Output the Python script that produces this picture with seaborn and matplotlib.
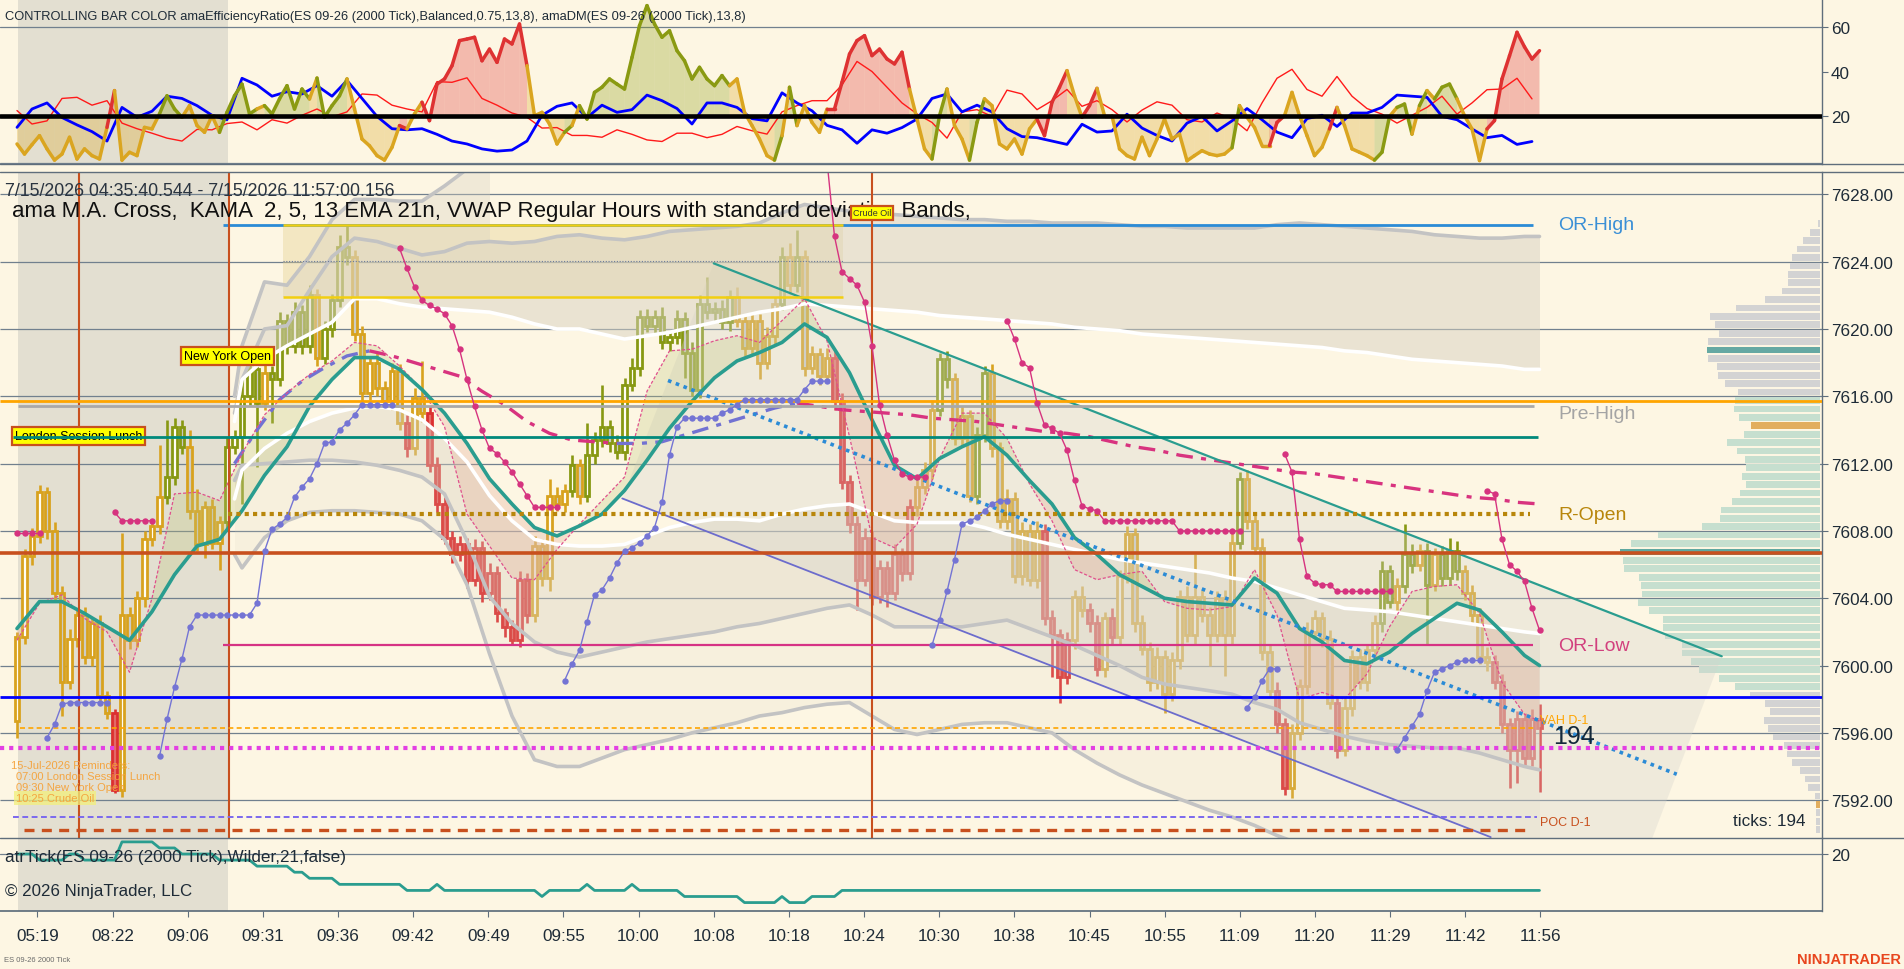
import numpy as np
import matplotlib
matplotlib.use("Agg")
import matplotlib.pyplot as plt
import seaborn as sns
from matplotlib.collections import LineCollection, PolyCollection
from matplotlib.patches import Rectangle, Polygon
from matplotlib.lines import Line2D

# ----------------------------------------------------------------- DATA
first_open = 7596.7
closes = [
    7601.7, 7606.5, 7607.7, 7610.3, 7608.0, 7604.3, 7599.0, 7601.6, 7603.0, 7600.5,
    7602.5, 7598.2, 7597.2, 7592.6, 7603.0, 7601.5, 7604.0, 7607.5, 7608.3, 7610.0,
    7611.2, 7614.2, 7613.0, 7609.2, 7607.2, 7609.4, 7607.3, 7608.5, 7613.0, 7613.6,
    7616.0, 7617.6, 7615.6, 7617.4, 7617.0, 7620.5, 7619.0, 7621.0, 7619.0, 7622.0,
    7618.3, 7620.0, 7621.7, 7624.9, 7624.3, 7619.7, 7616.2, 7618.0, 7616.5, 7615.7,
    7617.5, 7614.4, 7612.9, 7615.9, 7615.0, 7611.9, 7609.6, 7607.6, 7606.6, 7607.2,
    7605.1, 7607.0, 7604.3, 7605.5, 7603.1, 7602.3, 7601.5, 7605.1, 7603.0, 7607.1,
    7605.2, 7610.1, 7609.6, 7610.4, 7611.9, 7610.1, 7612.5, 7613.4, 7614.2, 7613.2,
    7612.7, 7616.7, 7617.7, 7620.7, 7620.2, 7620.7, 7619.2, 7619.5, 7620.6, 7618.6,
    7616.4, 7621.5, 7621.0, 7621.2, 7620.4, 7621.9, 7620.5, 7618.9, 7620.5, 7618.0,
    7619.6, 7621.5, 7624.3, 7622.6, 7624.3, 7617.7, 7618.5, 7617.2, 7618.3, 7615.7,
    7610.9, 7608.4, 7605.1, 7607.6, 7604.1, 7605.8, 7604.3, 7606.6, 7605.5, 7609.4,
    7610.6, 7611.6, 7615.2, 7618.2, 7617.0, 7613.5, 7614.8, 7610.1, 7613.7, 7617.4,
    7612.9, 7608.6, 7609.9, 7605.3, 7608.0, 7605.1, 7608.0, 7602.8, 7601.8, 7599.3,
    7601.5, 7604.1, 7603.3, 7602.5, 7599.8, 7602.8, 7601.7, 7605.3, 7607.8, 7602.5,
    7601.0, 7599.0, 7600.5, 7598.3, 7600.3, 7604.1, 7601.8, 7604.1, 7603.0, 7601.8,
    7604.0, 7601.8, 7607.3, 7611.1, 7608.6, 7607.0, 7600.8, 7598.5, 7596.5, 7592.7,
    7596.0, 7598.8, 7602.0, 7602.8, 7601.6, 7597.8, 7595.0, 7597.5, 7600.5, 7599.0,
    7600.9, 7602.5, 7605.6, 7603.8, 7604.7, 7606.6, 7606.0, 7606.8, 7604.8, 7606.6,
    7605.2, 7606.8, 7605.6, 7604.3, 7603.0, 7600.5, 7600.2, 7599.0, 7596.5, 7595.0,
    7596.8, 7594.5, 7596.8, 7596.3,
]
up_wick = [
    0.3, 0.4, 0.5, 0.4, 0.3, 0.5, 0.4, 0.6, 0.4, 0.5, 0.4, 0.5, 0.3, 0.2, 4.9, 0.5, 0.4, 0.5, 0.4, 3.1,
    3.4, 0.5, 0.4, 1.0, 1.3, 0.4, 0.5, 0.4, 0.6, 0.4, 1.0, 0.5, 0.4, 0.6, 0.4, 0.5, 0.4, 0.6, 0.4, 0.6,
    0.4, 0.5, 0.4, 0.7, 1.3, 0.4, 0.5, 0.4, 0.6, 0.4, 0.5, 0.4, 0.5, 0.6, 2.2, 0.4, 0.5, 0.4, 0.4, 0.5,
    0.4, 0.5, 0.4, 0.6, 0.4, 0.3, 0.4, 0.5, 0.4, 0.6, 0.4, 1.0, 0.5, 0.4, 0.6, 0.4, 1.9, 0.5, 2.5, 0.4,
    0.5, 0.4, 0.6, 0.4, 0.5, 0.4, 0.6, 0.4, 0.5, 0.4, 0.6, 0.5, 1.6, 0.4, 0.5, 0.4, 0.6, 0.4, 0.5, 0.4,
    0.5, 0.4, 0.6, 0.8, 1.6, 0.4, 0.5, 0.4, 0.6, 0.4, 0.5, 0.4, 0.5, 0.6, 0.4, 0.5, 0.4, 0.6, 0.4, 0.5,
    0.4, 0.5, 0.6, 0.4, 0.5, 0.4, 0.6, 0.4, 0.5, 0.4, 0.5, 0.4, 0.6, 0.4, 0.5, 0.4, 0.6, 0.4, 0.5, 0.4,
    0.5, 0.4, 0.6, 0.4, 0.5, 0.4, 0.6, 0.4, 0.5, 0.4, 0.5, 0.4, 0.6, 0.4, 0.5, 0.4, 0.6, 2.5, 0.4, 0.5,
    0.4, 0.5, 0.6, 0.4, 0.5, 0.4, 0.6, 0.4, 0.5, 0.4, 0.5, 0.4, 0.6, 0.5, 0.4, 0.5, 0.4, 0.6, 0.4, 0.5,
    0.4, 0.5, 0.6, 0.4, 0.5, 1.8, 0.6, 0.4, 0.5, 0.4, 0.5, 0.8, 0.6, 0.4, 0.5, 0.4, 0.6, 0.4, 0.5, 0.4,
    0.5, 0.4, 0.6, 0.9,
]
dn_wick = [
    1.0, 0.4, 0.5, 0.4, 0.5, 0.4, 2.0, 0.4, 0.5, 0.4, 0.5, 0.3, 0.4, 0.2, 0.4, 0.5, 0.4, 0.5, 0.4, 0.5,
    0.4, 0.5, 0.4, 0.5, 0.4, 0.8, 0.4, 1.6, 0.5, 0.4, 4.0, 0.5, 3.8, 0.4, 2.6, 0.4, 0.5, 0.4, 0.5, 0.4,
    0.5, 0.4, 0.5, 0.4, 0.5, 0.4, 0.5, 0.4, 0.5, 0.4, 0.5, 0.4, 0.5, 0.4, 0.5, 0.4, 0.5, 0.4, 0.5, 0.4,
    0.5, 0.4, 0.5, 0.4, 0.5, 0.6, 0.3, 0.4, 0.5, 0.4, 0.5, 0.8, 0.4, 0.5, 0.4, 0.5, 0.4, 0.5, 0.4, 0.5,
    0.4, 0.5, 0.4, 0.5, 0.4, 0.5, 0.4, 0.5, 0.4, 1.5, 0.4, 0.5, 0.4, 0.5, 0.4, 0.5, 0.4, 0.5, 0.4, 1.0,
    0.4, 0.5, 0.4, 0.5, 0.4, 0.5, 0.4, 0.5, 0.4, 0.5, 0.4, 0.5, 1.8, 0.4, 0.5, 0.4, 0.8, 0.4, 0.5, 0.4,
    0.5, 0.4, 0.5, 0.4, 0.5, 0.4, 0.5, 0.4, 0.5, 0.4, 0.5, 0.4, 0.5, 0.4, 0.5, 0.4, 0.5, 0.4, 2.5, 1.5,
    0.4, 0.5, 0.4, 0.5, 0.4, 0.5, 0.4, 0.5, 0.4, 0.5, 0.4, 0.5, 0.4, 1.1, 0.4, 0.5, 0.4, 0.5, 0.4, 1.8,
    0.4, 2.4, 0.5, 0.4, 0.5, 0.4, 0.5, 0.4, 0.5, 0.4, 0.6, 0.4, 0.5, 0.4, 0.5, 0.4, 0.5, 0.4, 0.5, 0.4,
    0.5, 0.4, 0.5, 0.4, 0.5, 0.4, 0.5, 0.4, 3.5, 0.4, 0.5, 0.4, 0.5, 0.4, 0.5, 0.4, 0.5, 0.4, 0.5, 2.3,
    2.0, 0.4, 0.5, 3.8,
]
# bar colour controlled by efficiency ratio: G = up trend, Y = neutral, R = down trend
bar_color = (
    "YYYYYYYYYYYYY" "R" "YYYYYY" "GGG" "YYYYY" "GGGGG" "Y" "GGGGGG" "Y" "GGGG"
    "YYYYYYY" "R" "YY" "RRRRRRRRRRRRRR" "YYYYY" "G" "Y" "GGGGGGGGGGGGGGGGGGGG"
    "YYYYYY" "GYG" "YYYY" "RRRRRRRRRRR" "YYY" "GG" "YYY" "GG" "YYYYYYY" "RRRR"
    "YY" "RR" "YR" "YYYYYYYYYYYYYYYY" "G" "YYYY" "RR" "YYYYYY" "R" "YYYYY"
    "GG" "Y" "GG" "Y" "G" "Y" "GGG" "YYYY" "RRRRRRR"
)
x_labels = ["05:19", "08:22", "09:06", "09:31", "09:36", "09:42", "09:49", "09:55", "10:00",
            "10:08", "10:18", "10:24", "10:30", "10:38", "10:45", "10:55", "11:09", "11:20",
            "11:29", "11:42", "11:56"]

# top panel: amaEfficiencyRatio (per bar), amaDM +DI / -DI (every 2nd bar)
er_values = [
    7.7, 3.2, 7.4, 11.4, 5.5, 0.5, 3.2, 10.7, 1.0, 5.5, 2.5, 1.0, 15.1, 31.5, 0.5, 4.0, 2.5, 15.1, 14.4, 21.1,
    29.2, 23.3, 19.6, 24.8, 15.9, 12.9, 20.3, 12.9, 21.8, 29.2, 34.4, 21.1, 23.3, 24.8, 21.1, 27.8, 33.7, 23.3, 32.2, 27.8,
    37.1, 19.6, 24.8, 29.2, 36.7, 23.3, 9.9, 6.9, 2.5, 0.5, 6.2, 15.9, 14.4, 21.1, 26.3, 18.1, 34.4, 36.7, 42.6, 53.8,
    54.5, 55.3, 44.8, 50.0, 44.1, 54.5, 52.3, 61.2, 42.6, 20.3, 21.8, 16.6, 7.7, 12.9, 15.9, 24.8, 18.8, 30.7, 33.0, 36.7,
    34.4, 32.2, 46.3, 60.5, 69.4, 61.2, 55.3, 58.2, 49.3, 44.8, 36.7, 41.9, 36.7, 33.7, 38.2, 33.7, 36.7, 21.8, 15.9, 9.9,
    2.5, 0.5, 11.4, 33.0, 15.9, 24.8, 17.3, 12.9, 23.3, 23.3, 35.2, 47.8, 53.8, 56.0, 47.1, 50.0, 45.6, 43.4, 48.6, 32.2,
    18.8, 5.5, 1.0, 20.3, 32.2, 15.9, 9.9, 0.5, 17.3, 27.8, 24.8, 7.7, 5.5, 9.9, 3.2, 14.4, 18.8, 11.4, 26.3, 33.0,
    40.4, 29.2, 19.6, 24.8, 32.5, 20.3, 20.3, 5.5, 2.5, 1.0, 10.7, 2.5, 9.9, 18.8, 9.9, 12.1, 0.2, 2.5, 4.7, 3.2,
    2.5, 3.2, 6.0, 24.8, 19.6, 15.1, 7.0, 7.0, 17.3, 20.3, 30.7, 20.3, 11.4, 2.5, 6.2, 14.4, 24.0, 15.9, 5.5, 4.0,
    2.5, 0.5, 4.0, 20.0, 24.0, 25.5, 12.1, 24.8, 31.5, 27.8, 33.0, 34.4, 27.8, 20.3, 14.4, 0.3, 14.4, 18.1, 36.7, 47.0,
    57.5, 51.0, 45.6, 49.3,
]
dm_bars = list(range(0, 204, 2))
blue_dm = [
    15.1, 23.3, 26.0, 19.5, 16.2, 13.2, 9.0, 24.0, 19.6, 22.3, 29.0, 28.0, 24.8, 20.5, 18.5, 37.0, 34.0, 29.0, 31.0, 30.0,
    33.7, 29.0, 36.0, 28.0, 20.0, 14.5, 14.0, 14.5, 12.0, 9.0, 7.7, 5.5, 4.5, 5.0, 9.0, 20.5, 24.5, 26.0, 19.5, 25.0,
    21.8, 23.0, 29.5, 27.0, 23.5, 16.6, 26.0, 26.0, 24.0, 19.0, 18.0, 30.5, 26.0, 22.5, 16.0, 14.0, 8.0, 14.0, 12.5, 15.0,
    18.8, 28.0, 30.0, 22.0, 25.0, 22.0, 14.5, 11.0, 10.5, 9.0, 7.5, 16.5, 13.0, 13.5, 21.0, 14.8, 11.5, 9.0, 17.0, 20.0,
    13.5, 18.0, 23.5, 18.5, 13.0, 10.5, 19.0, 20.5, 15.5, 21.5, 21.5, 24.0, 29.5, 29.0, 28.5, 20.0, 18.5, 14.4, 10.5, 11.5,
    7.5, 8.8,
]
red_dm = [
    22.6, 16.6, 18.0, 28.0, 28.5, 25.0, 27.0, 17.0, 14.5, 12.5, 10.3, 9.0, 14.2, 14.0, 16.8, 17.5, 14.0, 18.5, 17.0, 20.5,
    23.3, 19.8, 22.0, 30.0, 29.5, 25.0, 23.3, 22.0, 35.5, 35.2, 37.2, 28.0, 25.0, 21.5, 19.6, 14.8, 15.0, 11.5, 11.5, 10.7,
    14.0, 12.0, 9.5, 8.8, 12.5, 12.5, 10.5, 12.0, 15.5, 13.6, 12.1, 22.0, 24.8, 27.0, 27.0, 34.0, 44.5, 40.0, 33.0, 26.0,
    21.1, 17.3, 10.3, 22.0, 23.0, 20.0, 31.7, 30.0, 23.0, 27.0, 32.0, 24.5, 27.0, 23.0, 17.5, 22.8, 26.5, 25.0, 18.5, 17.5,
    21.5, 19.0, 13.6, 26.0, 37.0, 41.0, 32.0, 29.0, 37.8, 29.0, 23.5, 21.0, 17.0, 20.5, 24.0, 29.0, 21.0, 26.0, 31.9, 32.2,
    37.0, 27.8,
]
# bottom panel: atrTick (Wilder, 21)
atr_ticks = [
    20, 20, 20, 19, 19, 19, 19, 20, 20, 19, 19, 19, 19, 19, 22, 22, 22, 22, 22, 21,
    21, 21, 20, 20, 20, 20, 20, 19, 19, 19, 19, 19, 18, 18, 18, 18, 18, 17, 17, 16,
    16, 16, 16, 15, 15, 15, 15, 15, 15, 15, 15, 15, 14, 14, 14, 14, 15, 14, 14, 14,
    14, 14, 14, 14, 14, 14, 14, 14, 14, 14, 13, 14, 14, 14, 14, 14, 15, 14, 14, 14,
    14, 14, 15, 14, 14, 14, 14, 14, 14, 13, 13, 13, 13, 13, 13, 13, 13, 12, 12, 12,
    12, 12, 13, 12, 12, 12, 13, 13, 13, 13, 14, 14, 14, 14, 14, 14, 14, 14, 14, 14,
    14, 14, 14, 14, 14, 14, 14, 14, 14, 14, 14, 14, 14, 14, 14, 14, 14, 14, 14, 14,
    14, 14, 14, 14, 14, 14, 14, 14, 14, 14, 14, 14, 14, 14, 14, 14, 14, 14, 14, 14,
    14, 14, 14, 14, 14, 14, 14, 14, 14, 14, 14, 14, 14, 14, 14, 14, 14, 14, 14, 14,
    14, 14, 14, 14, 14, 14, 14, 14, 14, 14, 14, 14, 14, 14, 14, 14, 14, 14, 14, 14,
    14, 14, 14, 14,
]
# EMA 21 and KAMA (sampled every 3rd bar)
kg_bars = list(range(0, 202, 3)) + [203]
ema21 = [
    7602.2, 7603.8, 7603.8, 7603.1, 7602.3, 7601.5, 7603.2, 7605.4, 7607.1, 7607.5,
    7609.2, 7611.3, 7613.0, 7615.4, 7617.0, 7618.3, 7618.3, 7617.6, 7616.4, 7615.0,
    7613.2, 7611.1, 7609.6, 7608.2, 7607.7, 7608.3, 7609.0, 7610.4, 7612.2, 7614.1,
    7615.7, 7617.1, 7618.1, 7618.6, 7619.2, 7620.3, 7619.5, 7617.4, 7614.6, 7611.9,
    7611.1, 7612.3, 7613.0, 7613.6, 7612.5, 7611.0, 7609.6, 7607.6, 7606.6, 7605.4,
    7604.7, 7604.0, 7603.8, 7603.7, 7603.6, 7605.2, 7604.3, 7602.2, 7601.4, 7600.3,
    7600.1, 7600.8, 7601.9, 7602.8, 7603.7, 7603.3, 7602.0, 7600.6, 7600.0,
]
kama = [
    7601.5, 7603.7, 7604.2, 7602.8, 7602.0, 7599.6, 7604.0, 7610.2, 7610.3, 7609.8,
    7612.6, 7614.9, 7616.2, 7617.3, 7618.1, 7619.2, 7619.0, 7617.8, 7616.4, 7614.2,
    7609.0, 7607.1, 7605.2, 7605.1, 7606.9, 7608.4, 7609.8, 7611.2, 7616.3, 7618.7,
    7618.8, 7619.3, 7619.6, 7619.2, 7620.5, 7621.8, 7619.3, 7613.6, 7607.6, 7607.0,
    7608.4, 7612.3, 7615.0, 7615.0, 7613.5, 7610.8, 7608.6, 7605.7, 7605.1, 7605.4,
    7605.6, 7603.8, 7603.4, 7603.3, 7603.5, 7605.7, 7603.0, 7598.0, 7598.4, 7598.0,
    7599.5, 7602.3, 7604.4, 7604.7, 7604.8, 7603.1, 7599.0, 7597.1, 7596.7,
]
# VWAP Regular Hours with standard deviation bands (sampled every 3rd bar)
vw_bars = [29] + list(range(30, 202, 3)) + [203]
vw_band2_up = [
    7615.0, 7617.0, 7620.0, 7620.2, 7622.3, 7624.3, 7625.4, 7625.2, 7624.8, 7624.4,
    7624.6, 7625.1, 7625.2, 7625.1, 7625.2, 7625.5, 7625.6, 7625.4, 7625.3, 7625.5,
    7625.8, 7625.9, 7626.0, 7626.1, 7626.3, 7626.9, 7627.4, 7627.2, 7627.0, 7626.9,
    7626.8, 7626.7, 7626.6, 7626.5, 7626.5, 7626.4, 7626.4, 7626.3, 7626.3, 7626.3,
    7626.2, 7626.1, 7626.1, 7626.0, 7626.0, 7626.0, 7626.0, 7626.2, 7626.3, 7626.2,
    7626.1, 7626.0, 7625.9, 7625.8, 7625.6, 7625.5, 7625.4, 7625.4, 7625.5, 7625.5,
]
vw_band1_up = [
    7614.5, 7617.0, 7618.2, 7619.0, 7619.7, 7620.4, 7621.8, 7621.8, 7621.5, 7621.3,
    7621.2, 7621.1, 7621.0, 7620.7, 7620.3, 7620.0, 7620.0, 7619.7, 7619.4, 7619.6,
    7619.8, 7620.1, 7620.4, 7620.7, 7621.0, 7621.2, 7621.5, 7621.4, 7621.3, 7621.2,
    7621.1, 7621.0, 7620.8, 7620.7, 7620.6, 7620.5, 7620.4, 7620.3, 7620.1, 7620.0,
    7619.9, 7619.7, 7619.6, 7619.5, 7619.4, 7619.3, 7619.2, 7619.1, 7619.0, 7618.9,
    7618.7, 7618.6, 7618.4, 7618.2, 7618.1, 7618.0, 7617.9, 7617.8, 7617.6, 7617.6,
]
vwap_line = [
    7609.9, 7611.6, 7612.9, 7613.8, 7614.5, 7615.0, 7615.3, 7615.4, 7615.2, 7614.6,
    7613.5, 7612.1, 7610.1, 7608.6, 7607.5, 7607.2, 7607.1, 7607.1, 7607.2, 7607.7,
    7608.2, 7608.5, 7608.7, 7608.7, 7608.6, 7609.0, 7609.3, 7609.5, 7609.6, 7609.1,
    7608.6, 7608.5, 7608.5, 7608.5, 7608.2, 7607.8, 7607.5, 7607.2, 7606.9, 7606.6,
    7606.3, 7606.1, 7605.9, 7605.7, 7605.5, 7605.2, 7605.0, 7604.6, 7604.2, 7603.8,
    7603.4, 7603.3, 7603.2, 7603.0, 7602.8, 7602.6, 7602.4, 7602.2, 7602.0, 7601.9,
]
vw_band1_dn = [
    7611.0, 7611.9, 7612.0, 7612.1, 7612.2, 7612.2, 7612.1, 7611.9, 7611.6, 7611.2,
    7610.2, 7607.4, 7604.1, 7602.5, 7601.4, 7600.8, 7600.5, 7600.8, 7601.1, 7601.4,
    7601.6, 7601.8, 7602.0, 7602.3, 7602.5, 7602.8, 7603.1, 7603.4, 7603.6, 7603.0,
    7602.3, 7602.3, 7602.3, 7602.3, 7602.5, 7602.7, 7602.2, 7601.7, 7601.2, 7600.6,
    7600.0, 7599.3, 7598.9, 7598.7, 7598.5, 7598.3, 7597.8, 7597.4, 7596.6, 7596.2,
    7595.8, 7595.5, 7595.3, 7595.2, 7595.1, 7595.1, 7594.8, 7594.4, 7594.0, 7593.8,
]
vw_band2_dn = [
    7606.6, 7605.8, 7607.6, 7608.6, 7609.1, 7609.2, 7609.2, 7609.1, 7609.0, 7608.6,
    7607.5, 7604.8, 7600.7, 7597.0, 7594.4, 7594.0, 7594.0, 7594.5, 7595.0, 7595.3,
    7595.6, 7596.0, 7596.3, 7596.6, 7597.0, 7597.2, 7597.5, 7597.7, 7597.8, 7597.0,
    7596.2, 7595.9, 7596.2, 7596.5, 7596.6, 7596.6, 7596.3, 7596.0, 7595.0, 7594.2,
    7593.5, 7592.9, 7592.4, 7591.9, 7591.4, 7591.0, 7590.5, 7589.9, 7589.4, 7589.0,
    7588.7, 7588.5, 7588.3, 7588.2, 7588.1, 7588.0, 7587.9, 7587.8, 7587.6, 7587.5,
]
vw_band3_up = [7616.0, 7619.0, 7622.8, 7622.6, 7624.3, 7626.5, 7627.7, 7627.7, 7627.6,
               7627.6, 7628.5, 7629.5, 7630.5]          # first 13 vw_bars
# ama M.A. Cross (dash-dot), colour switches
ma_bars = list(range(29, 204, 3))
ma_values = [
    7612.0, 7614.0, 7615.8, 7616.9, 7617.7, 7618.4, 7618.7, 7618.4, 7618.0, 7617.6,
    7617.2, 7616.3, 7615.5, 7614.5, 7613.8, 7613.4, 7613.3, 7613.2, 7613.2, 7613.3,
    7613.7, 7614.1, 7614.5, 7614.9, 7615.3, 7615.6, 7615.4, 7615.2, 7615.1, 7615.0,
    7614.9, 7614.7, 7614.6, 7614.5, 7614.3, 7614.1, 7613.9, 7613.8, 7613.6, 7613.3,
    7613.0, 7612.8, 7612.5, 7612.3, 7612.1, 7611.9, 7611.7, 7611.5, 7611.4, 7611.2,
    7611.0, 7610.8, 7610.6, 7610.4, 7610.2, 7610.0, 7609.9, 7609.7, 7609.6,
]
ma_switch_bars = [29, 47, 80, 104]
ma_switch_state = ["bull", "bear", "bull", "bear"]
# trailing-stop dots: (first bar, values)
blue_stops = [
    (4, [7595.7, 7596.5, 7597.7, 7597.8, 7597.8, 7597.8, 7597.8, 7597.8, 7597.8]),
    (19, [7594.6, 7596.8, 7598.7, 7600.4, 7602.3, 7603.0, 7603.0, 7603.0, 7603.0, 7603.0,
          7603.0, 7603.0, 7603.0, 7603.7, 7606.8, 7608.1, 7608.4, 7608.8, 7610.0, 7610.6,
          7611.1, 7612.0, 7613.2, 7613.3, 7614.0, 7614.4, 7614.9, 7615.5, 7615.5, 7615.5,
          7615.5, 7615.5]),
    (73, [7599.1, 7600.1, 7600.9, 7602.6, 7604.2, 7604.5, 7605.2, 7606.1, 7606.8, 7607.0,
          7607.3, 7607.7, 7608.2, 7609.7, 7612.5, 7614.2, 7614.7, 7614.7, 7614.7, 7614.7,
          7614.7, 7615.0, 7615.2, 7615.5, 7615.8, 7615.8, 7615.8, 7615.8, 7615.8, 7615.8,
          7615.8, 7615.8, 7616.4, 7616.9, 7616.9, 7616.9]),
    (122, [7601.2, 7602.7, 7604.4, 7606.3, 7608.4, 7608.6, 7608.8, 7609.2, 7609.6, 7609.8, 7609.8]),
    (164, [7597.5, 7598.1, 7599.1, 7599.8, 7599.8]),
    (184, [7595.0, 7595.7, 7596.4, 7597.1, 7598.5, 7599.6, 7599.8, 7600.0, 7600.2, 7600.3,
           7600.3, 7600.3]),
]
pink_stops = [
    (0, [7607.9, 7607.9, 7607.9, 7607.9]),
    (13, [7609.1, 7608.6, 7608.6, 7608.6, 7608.6, 7608.6]),
    (51, [7624.8, 7623.6, 7622.5, 7621.7, 7621.4, 7621.2, 7620.9, 7620.2, 7618.8, 7617.0,
          7615.4, 7614.0, 7612.9, 7612.6, 7612.1, 7611.5, 7610.8, 7610.1, 7609.4, 7609.4,
          7609.4, 7609.4]),
    (108, [7630.0, 7625.5, 7623.4, 7623.0, 7622.6, 7621.6, 7619.0, 7615.5, 7613.7, 7612.2,
           7611.4, 7611.2, 7611.2, 7611.2]),
    (132, [7620.5, 7619.4, 7618.0, 7617.7, 7615.6, 7614.3, 7614.1, 7613.8, 7612.8, 7611.0,
           7609.5, 7609.3, 7609.2, 7608.6, 7608.6, 7608.6, 7608.6, 7608.6, 7608.6, 7608.6,
           7608.6, 7608.6, 7608.6, 7608.0, 7608.0, 7608.0, 7608.0, 7608.0, 7608.0, 7608.0,
           7608.0, 7608.0]),
    (169, [7612.6, 7611.5, 7607.5, 7605.3, 7604.9, 7604.8, 7604.8, 7604.4, 7604.4, 7604.4,
           7604.4, 7604.4, 7604.4, 7604.4, 7604.4]),
    (196, [7610.4, 7610.2, 7607.5, 7606.0, 7605.6, 7605.0, 7603.4, 7602.1]),
]
# trend channel anchors (bar, price)
upper_trend = [(92.9, 7623.9), (227.3, 7600.55)]
lower_trend = [(80.7, 7609.93), (196.5, 7589.8)]
mid_trend = [(86.8, 7616.94), (221.3, 7593.54)]
# opening range box (bars, prices)
or_box_bars = (35.5, 110.1)
or_box_prices = (7621.9, 7626.2)
# key levels
level_names = ["OR-High", "Pre-High", "R-Open", "OR-Low"]
level_prices = [7626.2, 7615.45, 7609.0, 7601.2]
prior_vah, prior_poc = 7596.3, 7591.0
session_lines = {"orange": 7615.7, "teal": 7613.6, "poc_red": 7606.7, "blue": 7598.15,
                 "magenta": 7595.1, "red_dash": 7590.2}
session_marks = ["London Session Lunch", "New York Open", "Crude Oil"]
session_mark_bars = [8.27, 28.2, 114.0]
reminders = ["15-Jul-2026 Reminders:", "07:00 London Session Lunch",
             "09:30 New York Open", "10:25 Crude Oil"]
last_ticks = 194
# volume profile (bottom level 7590.25, 0.5 pt rows), widths in profile units
prof_start, prof_row = 7590.25, 0.5
prof_volume = [
    4, 4, 4, 4, 5, 12, 15, 20, 28, 33, 36, 47, 52, 56, 50, 55, 70, 85, 101, 121,
    129, 138, 138, 155, 157, 157, 171, 182, 178, 179, 181, 196, 197, 200, 189, 162, 118, 100, 99, 88,
    80, 74, 78, 74, 75, 83, 93, 76, 69, 81, 86, 85, 82, 95, 102, 103, 112, 113, 112, 101,
    105, 110, 84, 55, 38, 32, 32, 30, 28, 23, 17, 10, 2,
]
va_range = (7598.75, 7615.75)
prof_marks = {7618.75: "#66A9A3", 7614.25: "#E2AE5E", 7606.75: "#5FA8A0", 7591.75: "#E2AE5E"}

# ----------------------------------------------------------------- STYLE
sns.set_theme(style="white")
plt.rcParams["font.family"] = ["Liberation Sans", "DejaVu Sans"]

W, H = 1904, 970
BG = "#FDF6E3"
GRID = "#71808E"
AXC = "#5F6E7C"
TXT = "#1E2B37"
BAR0, BARW = 17.0, 7.5


def bx(px):
    return (px - BAR0) / BARW


XL = (bx(0), bx(1822))
N = len(closes)
xb = np.arange(N)

fig = plt.figure(figsize=(W / 100, H / 100), dpi=100, facecolor=BG)


def rect(x0, y0, x1, y1):
    return [x0 / W, 1 - y1 / H, (x1 - x0) / W, (y1 - y0) / H]


ax_top = fig.add_axes(rect(0, 0, 1822, 165))
ax = fig.add_axes(rect(0, 173, 1822, 839))
ax_bot = fig.add_axes(rect(0, 839, 1822, 912))

for a in (ax_top, ax, ax_bot):
    a.set_facecolor(BG)
    a.set_xlim(*XL)
    a.yaxis.tick_right()
    a.tick_params(axis="y", direction="out", length=4, width=0.8, color=AXC,
                  labelsize=12.3, labelcolor=TXT, pad=2.5)
    for s in ("left", "top", "bottom"):
        a.spines[s].set_visible(False)
    a.spines["right"].set_color(AXC)
    a.spines["right"].set_linewidth(1.0)
    a.set_xticks([])
    # pre-market shading
    a.axvspan(bx(17.7), bx(228.5), color="#E3DFD1", zorder=0.2, lw=0)

# ----------------------------------------------------------------- TOP PANEL
ax_top.set_ylim(-0.79 - (165 - 164) / 2.2425, 72.35)
ax_top.set_yticks([20, 40, 60])
ax_top.axhline(60, color=GRID, lw=0.9, zorder=0.5)
ax_top.axhline(-0.8, color=GRID, lw=0.9, zorder=0.5)
line_col = {"G": "#8A9A12", "Y": "#DAA520", "R": "#DE3232"}
er = np.array(er_values)
polys, pcols, segs, lcols = [], [], [], []
for i in range(N - 1):
    col = line_col[bar_color[i + 1]]
    polys.append([(i, 20), (i, er[i]), (i + 1, er[i + 1]), (i + 1, 20)])
    pcols.append(matplotlib.colors.to_rgba(col, 0.30))
    segs.append([(i, er[i]), (i + 1, er[i + 1])])
    lcols.append(col)
ax_top.add_collection(PolyCollection(polys, facecolors=pcols, edgecolors="none", zorder=1))
ax_top.add_collection(LineCollection(segs, colors=lcols, linewidths=2.5, zorder=3,
                                     capstyle="round", joinstyle="round"))
sns.lineplot(x=dm_bars, y=red_dm, ax=ax_top, color="#FF1A1A", linewidth=1.0,
             estimator=None, sort=False, legend=False, zorder=2)
sns.lineplot(x=dm_bars, y=blue_dm, ax=ax_top, color="#0000FF", linewidth=2.0,
             estimator=None, sort=False, legend=False, zorder=2.5)
ax_top.axhline(20, color="black", lw=3.3, zorder=4)
ax_top.set_xlim(*XL)
ax_top.set_ylabel("")
ax_top.set_xlabel("")

# ----------------------------------------------------------------- MAIN PANEL
PY0, PY1 = 7589.75, 7629.33
ax.set_ylim(PY0, PY1)
pticks = [7592, 7596, 7600, 7604, 7608, 7612, 7616, 7620, 7624, 7628]
ax.set_yticks(pticks)
ax.set_yticklabels([f"{p:.2f}" for p in pticks])
ax.hlines(pticks, XL[0], XL[1], color=GRID, lw=0.9, zorder=0.5)

# volume profile
prof_levels = prof_start + prof_row * np.arange(len(prof_volume))
pv = np.array(prof_volume) / BARW
pcol = []
for lv in prof_levels:
    key = round(float(lv), 2)
    if key in prof_marks:
        pcol.append(prof_marks[key])
    elif va_range[0] <= lv <= va_range[1]:
        pcol.append("#C6DFCF")
    else:
        pcol.append("#D3D3D3")
p_right = bx(1820)
ax.barh(prof_levels, pv, left=p_right - pv, height=0.40, color=pcol, lw=0, zorder=1.6)

# candles
o = np.array([first_open] + closes[:-1])
c = np.array(closes)
hi = np.maximum(o, c) + np.array(up_wick)
lo = np.minimum(o, c) - np.array(dn_wick)
edge = {"G": "#879812", "Y": "#D8A21E", "R": "#DC3030"}
face_up = {"G": "#FFFDF3", "Y": "#FFFDF3", "R": "#F3C8C0"}
face_dn = {"G": "#C8C8C1", "Y": "#CDCCC5", "R": "#E36A66"}
ecols = [edge[k] for k in bar_color]
fcols = [face_up[k] if c[i] >= o[i] else face_dn[k] for i, k in enumerate(bar_color)]
ax.vlines(xb, lo, hi, colors=ecols, lw=1.9, zorder=3)
ax.bar(xb, np.maximum(np.abs(c - o), 0.15), bottom=np.minimum(o, c), width=0.56,
       color=fcols, edgecolor=ecols, linewidth=2.0, zorder=3.1)

# VWAP band fills (translucent, above bars)
vb = np.array(vw_bars)
band_fc = "#D8D2C2"
ax.fill_between(vb, vw_band2_up, vw_band1_up, color=band_fc, alpha=0.5, lw=0, zorder=3.4)
ax.fill_between(vb[:13], vw_band3_up, vw_band2_up[:13], color=band_fc, alpha=0.35, lw=0, zorder=3.4)
ax.fill_between(vb, vwap_line, vw_band1_dn, color=band_fc, alpha=0.40, lw=0, zorder=3.4)
ax.fill_between(vb, vw_band1_dn, vw_band2_dn, color=band_fc, alpha=0.16, lw=0, zorder=3.4)

# trend channel fill
tu0, tu1 = upper_trend
tl0, tl1 = lower_trend
slope_l = (tl1[1] - tl0[1]) / (tl1[0] - tl0[0])
slope_r = (tu1[0] - 218.0) / (tu1[1] - 7589.7)
chan = [tl0, tu0, tu1, (218.0 - slope_r * (7589.7 - 7587.0), 7587.0),
        (tl0[0] + (7587.0 - tl0[1]) / slope_l, 7587.0)]
ax.add_patch(Polygon(chan, closed=True, fc="#D5D3CC", alpha=0.33, lw=0, zorder=3.3))

# opening range box
ax.add_patch(Rectangle((or_box_bars[0], or_box_prices[0]), or_box_bars[1] - or_box_bars[0],
                       or_box_prices[1] - or_box_prices[0], fc="#E3CF8E", alpha=0.38, lw=0,
                       zorder=3.35))

# KAMA / EMA cloud
kb = np.array(kg_bars)
ka = np.array(kama)
em = np.array(ema21)
ax.fill_between(kb, ka, em, where=ka >= em, interpolate=True, color="#BFC47A", alpha=0.28,
                lw=0, zorder=3.45)
ax.fill_between(kb, ka, em, where=ka < em, interpolate=True, color="#E3A995", alpha=0.30,
                lw=0, zorder=3.45)

# VWAP lines
for series, colr, xs in ((vw_band3_up, "#C3C3C3", vb[:13]), (vw_band2_up, "#C3C3C3", vb),
                         (vw_band2_dn, "#C3C3C3", vb), (vw_band1_dn, "#C3C3C3", vb),
                         (vw_band1_up, "#FFFFFF", vb), (vwap_line, "#FFFFFF", vb)):
    sns.lineplot(x=xs, y=series, ax=ax, color=colr, linewidth=2.6, estimator=None,
                 sort=False, legend=False, zorder=4)

# EMA & KAMA
sns.lineplot(x=kb, y=em, ax=ax, color="#2A9D8F", linewidth=2.6, estimator=None, sort=False,
             legend=False, zorder=4.3)
ax.plot(kb, ka, color="#E0508C", lw=0.9, ls=(0, (2.5, 1.5)), zorder=4.25)

# ama MA cross dash-dot with colour switch
mb = np.array(ma_bars)
mv = np.array(ma_values)
state_col = {"bull": "#7272D2", "bear": "#D8337F"}
bounds = ma_switch_bars + [204]
for j, st in enumerate(ma_switch_state):
    m = (mb >= bounds[j]) & (mb <= bounds[j + 1])
    ax.plot(mb[m], mv[m], color=state_col[st], lw=2.4, ls=(0, (5, 2.5, 1.5, 2.5)), zorder=4.2)

# key level lines
xr = XL
ax.hlines(session_lines["orange"], xr[0], xr[1], color="#FFA500", lw=2.0, zorder=4.5)
ax.hlines(session_lines["teal"], bx(13), bx(1538), color="#00897B", lw=2.0, zorder=4.6)
ax.hlines(level_prices[1], bx(18), bx(1534), color="#A9A9A9", lw=2.0, zorder=4.5)
ax.hlines(level_prices[0], bx(223), bx(1533), color="#2B8BD6", lw=2.0, zorder=4.4)
ax.hlines(or_box_prices, or_box_bars[0], or_box_bars[1], color="#F2CF10", lw=1.8, zorder=4.45)
ax.hlines(7624.06, or_box_bars[0], or_box_bars[1], color="#6A7A9A", lw=0.8, ls=(0, (1, 1.5)),
          zorder=4.45)
ax.hlines(level_prices[2], bx(228), bx(1530), color="#B8860B", lw=3.0, ls=(0, (1.0, 1.0)),
          zorder=4.5)
ax.hlines(session_lines["poc_red"], xr[0], xr[1], color="#C8501E", lw=2.6, zorder=4.5)
ax.hlines(level_prices[3], bx(223), bx(1533), color="#D63384", lw=1.6, zorder=4.5)
ax.hlines(session_lines["blue"], xr[0], xr[1], color="#0000FF", lw=2.0, zorder=4.5)
ax.hlines(prior_vah, bx(20), bx(1534), color="#FFA500", lw=1.2, ls=(0, (3, 2)), zorder=4.5)
ax.hlines(session_lines["magenta"], xr[0], xr[1], color="#E33FE3", lw=3.0, ls=(0, (1.0, 1.2)),
          zorder=4.5)
ax.hlines(prior_poc, bx(13), bx(1537), color="#7B68EE", lw=1.4, ls=(0, (3, 1.8)), zorder=4.5)
ax.hlines(session_lines["red_dash"], bx(24), bx(1530), color="#C8501E", lw=2.4, ls=(0, (3, 2.2)),
          zorder=4.5)
for vxb in session_mark_bars:
    ax.vlines(vxb, PY0, PY1, color="#C8501E", lw=1.5, zorder=4.4)

# trend lines
ax.plot([tu0[0], tu1[0]], [tu0[1], tu1[1]], color="#2A9D8F", lw=1.6, zorder=4.35)
ax.plot([tl0[0], tl1[0]], [tl0[1], tl1[1]], color="#6C6CCC", lw=1.3, zorder=4.35)
ax.plot([mid_trend[0][0], mid_trend[1][0]], [mid_trend[0][1], mid_trend[1][1]],
        color="#2B8BD6", lw=2.6, ls=(0, (1.0, 1.3)), zorder=4.35)

# trailing stop dots
for start, vals in blue_stops:
    xs = start + np.arange(len(vals))
    ax.plot(xs, vals, color="#7474D4", lw=1.0, marker="o", ms=4.6, mec="none", zorder=5)
for start, vals in pink_stops:
    xs = start + np.arange(len(vals))
    ax.plot(xs, vals, color="#D6337F", lw=1.0, marker="o", ms=4.6, mec="none", zorder=5)

# level labels
lab_x = bx(1558)
lab_cols = ["#3A8FD6", "#A4A4A4", "#B8860B", "#D2407E"]
lab_y = [7626.2, 7615.0, 7609.0, 7601.2]
for nm, yy, cc in zip(level_names, lab_y, lab_cols):
    ax.text(lab_x, yy, nm, color=cc, fontsize=14, va="center", ha="left", zorder=6)
ax.text(bx(1540), 7596.75, "VAH D-1", color="#FFA500", fontsize=9, va="center", ha="left",
        zorder=6.2)
ax.text(bx(1540), 7590.7, "POC D-1", color="#C8501E", fontsize=9, va="center", ha="left",
        zorder=6.2)
ax.text(bx(1553), 7595.8, str(last_ticks), color="#14283A", fontsize=18, va="center", ha="left",
        zorder=6)
ax.text(bx(1733), 7590.8, f"ticks: {last_ticks}", color=TXT, fontsize=12.3, va="center",
        ha="left", zorder=6)

# session marker boxes
box_kw = dict(boxstyle="square,pad=0.22", fc="#FFFF00", ec="#C8501E", lw=1.6)
ax.text(session_mark_bars[0] - 0.1, 7613.65, session_marks[0], fontsize=9, color="black",
        ha="center", va="center", bbox=box_kw, zorder=4.55)
ax.text(session_mark_bars[1] - 0.1, 7618.4, session_marks[1], fontsize=9, color="black",
        ha="center", va="center", bbox=box_kw, zorder=6)
ax.text(session_mark_bars[2], 7626.9, session_marks[2], fontsize=6.5, color="#333333",
        ha="center", va="center", bbox=dict(boxstyle="square,pad=0.25", fc="#FFFF00",
                                              ec="#C8501E", lw=1.6), zorder=7)


# chart texts (figure pixel coordinates)
def ft(px, py, s, **kw):
    return ax.text(px / W, 1 - py / H, s, transform=fig.transFigure, **kw)


ft(5, 191, "7/15/2026 04:35:40.544 - 7/15/2026 11:57:00.156", fontsize=12.8, color="#2A3440",
   va="center", zorder=6.5)
ft(12, 212, "ama M.A. Cross,  KAMA  2, 5, 13 EMA 21n, VWAP Regular Hours with standard deviation Bands,",
   fontsize=16, color="#101010", va="center", zorder=6.5)
rem_pos = [(11, 766), (16, 777), (16, 788), (16, 799)]
for k, (s, (px, py)) in enumerate(zip(reminders, rem_pos)):
    kw = dict(fontsize=8.0, color="#F5A23A", va="center", zorder=6.5, alpha=0.95)
    if k == 3:
        kw["bbox"] = dict(boxstyle="square,pad=0.15", fc="#F2F07A", ec="none", alpha=0.75)
    ft(px, py, s, **kw)

# ----------------------------------------------------------------- BOTTOM PANEL
ax_bot.set_ylim(10.61, 22.64)
ax_bot.set_yticks([20])
ax_bot.axhline(20, color=GRID, lw=0.9, zorder=0.5)
sns.lineplot(x=xb, y=atr_ticks, ax=ax_bot, color="#2A9D8F", linewidth=2.0, estimator=None,
             sort=False, legend=False, zorder=3)
ax_bot.set_xlim(*XL)
ax_bot.set_ylabel("")
ax_bot.spines["bottom"].set_visible(True)
ax_bot.spines["bottom"].set_color(AXC)
tick_bars = [bx(37.4 + 75.15 * k) for k in range(len(x_labels))]
ax_bot.set_xticks(tick_bars)
ax_bot.set_xticklabels(x_labels)
ax_bot.tick_params(axis="x", direction="out", length=4, width=0.8, color=AXC, labelsize=12.3,
                   labelcolor=TXT, pad=8, bottom=True)

for a in (ax_top, ax):
    a.set_xlabel("")
    a.set_ylabel("")

# panel separators and captions
for yy in (165, 173, 839):
    fig.add_artist(Line2D([0, 1], [1 - yy / H] * 2, color=AXC, lw=1.0))
fig.text(5 / W, 1 - 17 / H,
         "CONTROLLING BAR COLOR amaEfficiencyRatio(ES 09-26 (2000 Tick),Balanced,0.75,13,8), "
         "amaDM(ES 09-26 (2000 Tick),13,8)", fontsize=9.3, color="#1E2B37", va="center")
fig.text(5 / W, 1 - 858 / H, "atrTick(ES 09-26 (2000 Tick),Wilder,21,false)", fontsize=12.3,
         color="#1E2B37", va="center")
fig.text(5 / W, 1 - 892 / H, "\u00a9 2026 NinjaTrader, LLC", fontsize=12.2, color="#1E2B37",
         va="center")
fig.text(4 / W, 1 - 961 / H, "ES 09-26 2000 Tick", fontsize=5.5, color="#6A6A6A", va="center")
fig.text(1901 / W, 1 - 960 / H, "NINJATRADER", fontsize=10.5, color="#E8461E", va="center",
         ha="right", fontweight="bold")

fig.savefig("out.png", dpi=100, facecolor=BG)
